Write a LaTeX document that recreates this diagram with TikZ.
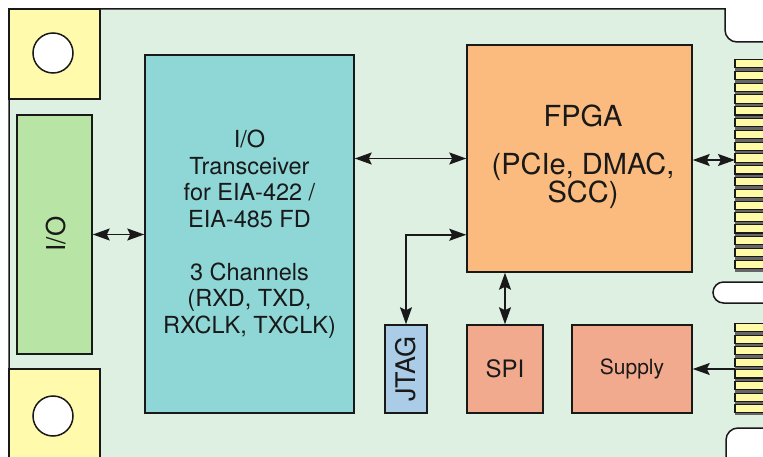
\documentclass[tikz,border=0pt]{standalone}
\usepackage{fontspec}
\setmainfont{TeX Gyre Heros}
\usetikzlibrary{arrows.meta}
\definecolor{boardbg}{RGB}{222,240,226}
\definecolor{ioGreen}{RGB}{184,229,166}
\definecolor{padYellow}{RGB}{255,250,172}
\definecolor{trxCyan}{RGB}{143,214,214}
\definecolor{fpgaOrange}{RGB}{252,187,126}
\definecolor{salmon}{RGB}{242,170,142}
\definecolor{jtagBlue}{RGB}{170,204,230}
\definecolor{pinYellow}{RGB}{255,250,165}
\definecolor{ink}{RGB}{25,25,25}
\begin{document}
\begin{tikzpicture}[x=1pt,y=-1pt,
  blk/.style={draw=ink, line width=1.5pt},
  box/.style={blk, inner sep=0pt, text=ink, align=center},
  lbl/.style={inner sep=0pt, text=ink},
  tip/.tip={Stealth[length=17pt,width=12pt,inset=3pt]},
  dbl/.style={line width=1.7pt, draw=ink, tip-tip},
  arr/.style={line width=1.7pt, draw=ink, -tip},
  pin/.style={draw=ink, line width=1.1pt, fill=pinYellow}]
\useasboundingbox (0,0) rectangle (763,457);
\fill[white] (0,0) rectangle (763,457);
% board
\path[blk, fill=boardbg] (9,480) -- (9,9) -- (725,9) -- (725,30)
  arc[start angle=180, end angle=90, radius=12] -- (790,42) -- (790,428) -- (738,428)
  arc[start angle=270, end angle=180, radius=12] -- (726,480) -- cycle;
% mounting pads
\draw[blk, fill=padYellow] (9,9) rectangle (100,99);
\draw[blk, fill=padYellow] (9,369) rectangle (100,480);
\node[blk, fill=white, circle, minimum size=40pt, inner sep=0pt] (hole1) at (53,53) {};
\node[blk, fill=white, circle, minimum size=40pt, inner sep=0pt] (hole2) at (53,416) {};
% key notch
\draw[blk, fill=white, rounded corners=10.5pt] (713,282) rectangle (800,303);
% edge fingers
\fill[black!60] (735,59) rectangle (770,272);
\foreach \i in {0,...,17} {\draw[pin] (735,{59.5+\i*11.8}) rectangle (775,{67.8+\i*11.8});}
\fill[black!60] (735,323) rectangle (770,415);
\foreach \i in {0,...,7} {\draw[pin] (735,{323.5+\i*11.6}) rectangle (775,{331.6+\i*11.6});}
% blocks
\node[box, fill=ioGreen, minimum width=75pt, minimum height=239pt] (io) at (54.5,234.5) {};
\node[lbl, rotate=90, font=\fontsize{26}{30}\selectfont] (iotxt) at (56,234) {I/O};
\node[box, fill=trxCyan, minimum width=209pt, minimum height=358pt,
  font=\fontsize{23.5}{26.5}\selectfont] (trx) at (249.5,234)
  {I/O\\Transceiver\\for EIA-422 /\\EIA-485 FD\\[26.5pt]3 Channels\\(RXD, TXD,\\RXCLK, TXCLK)};
\node[box, fill=fpgaOrange, minimum width=225pt, minimum height=227pt] (fpga) at (579.5,158.5) {};
\node[lbl, align=center, font=\fontsize{29}{25.5}\selectfont] (fpgatxt) at (583,157)
  {FPGA\\[22pt](PCIe, DMAC,\\SCC)};
\node[box, fill=jtagBlue, minimum width=42pt, minimum height=88pt] (jtag) at (406,369) {};
\node[lbl, rotate=90, font=\fontsize{27}{30}\selectfont] (jtagtxt) at (jtag.center) {JTAG};
\node[box, fill=salmon, minimum width=76pt, minimum height=88pt,
  font=\fontsize{24}{28}\selectfont] (spi) at (505,369) {SPI};
\node[box, fill=salmon, minimum width=120pt, minimum height=88pt,
  font=\fontsize{21}{24}\selectfont] (supply) at (632,369) {Supply};
% connectors
\coordinate (pinF) at (735,160);
\coordinate (pinS) at (735,369);
\coordinate (jin) at ([yshift=38pt]fpga.south west);
\draw[dbl] (io.east) -- (io.east -| trx.west);
\draw[dbl] (fpga.west -| trx.east) -- (fpga.west);
\draw[dbl] (jtag.north) |- (jin);
\draw[dbl] (spi.north) -- (spi.north |- fpga.south);
\draw[dbl] (fpga.east |- pinF) -- (pinF);
\draw[arr] (pinS) -- (supply.east);
\end{tikzpicture}
\end{document}
